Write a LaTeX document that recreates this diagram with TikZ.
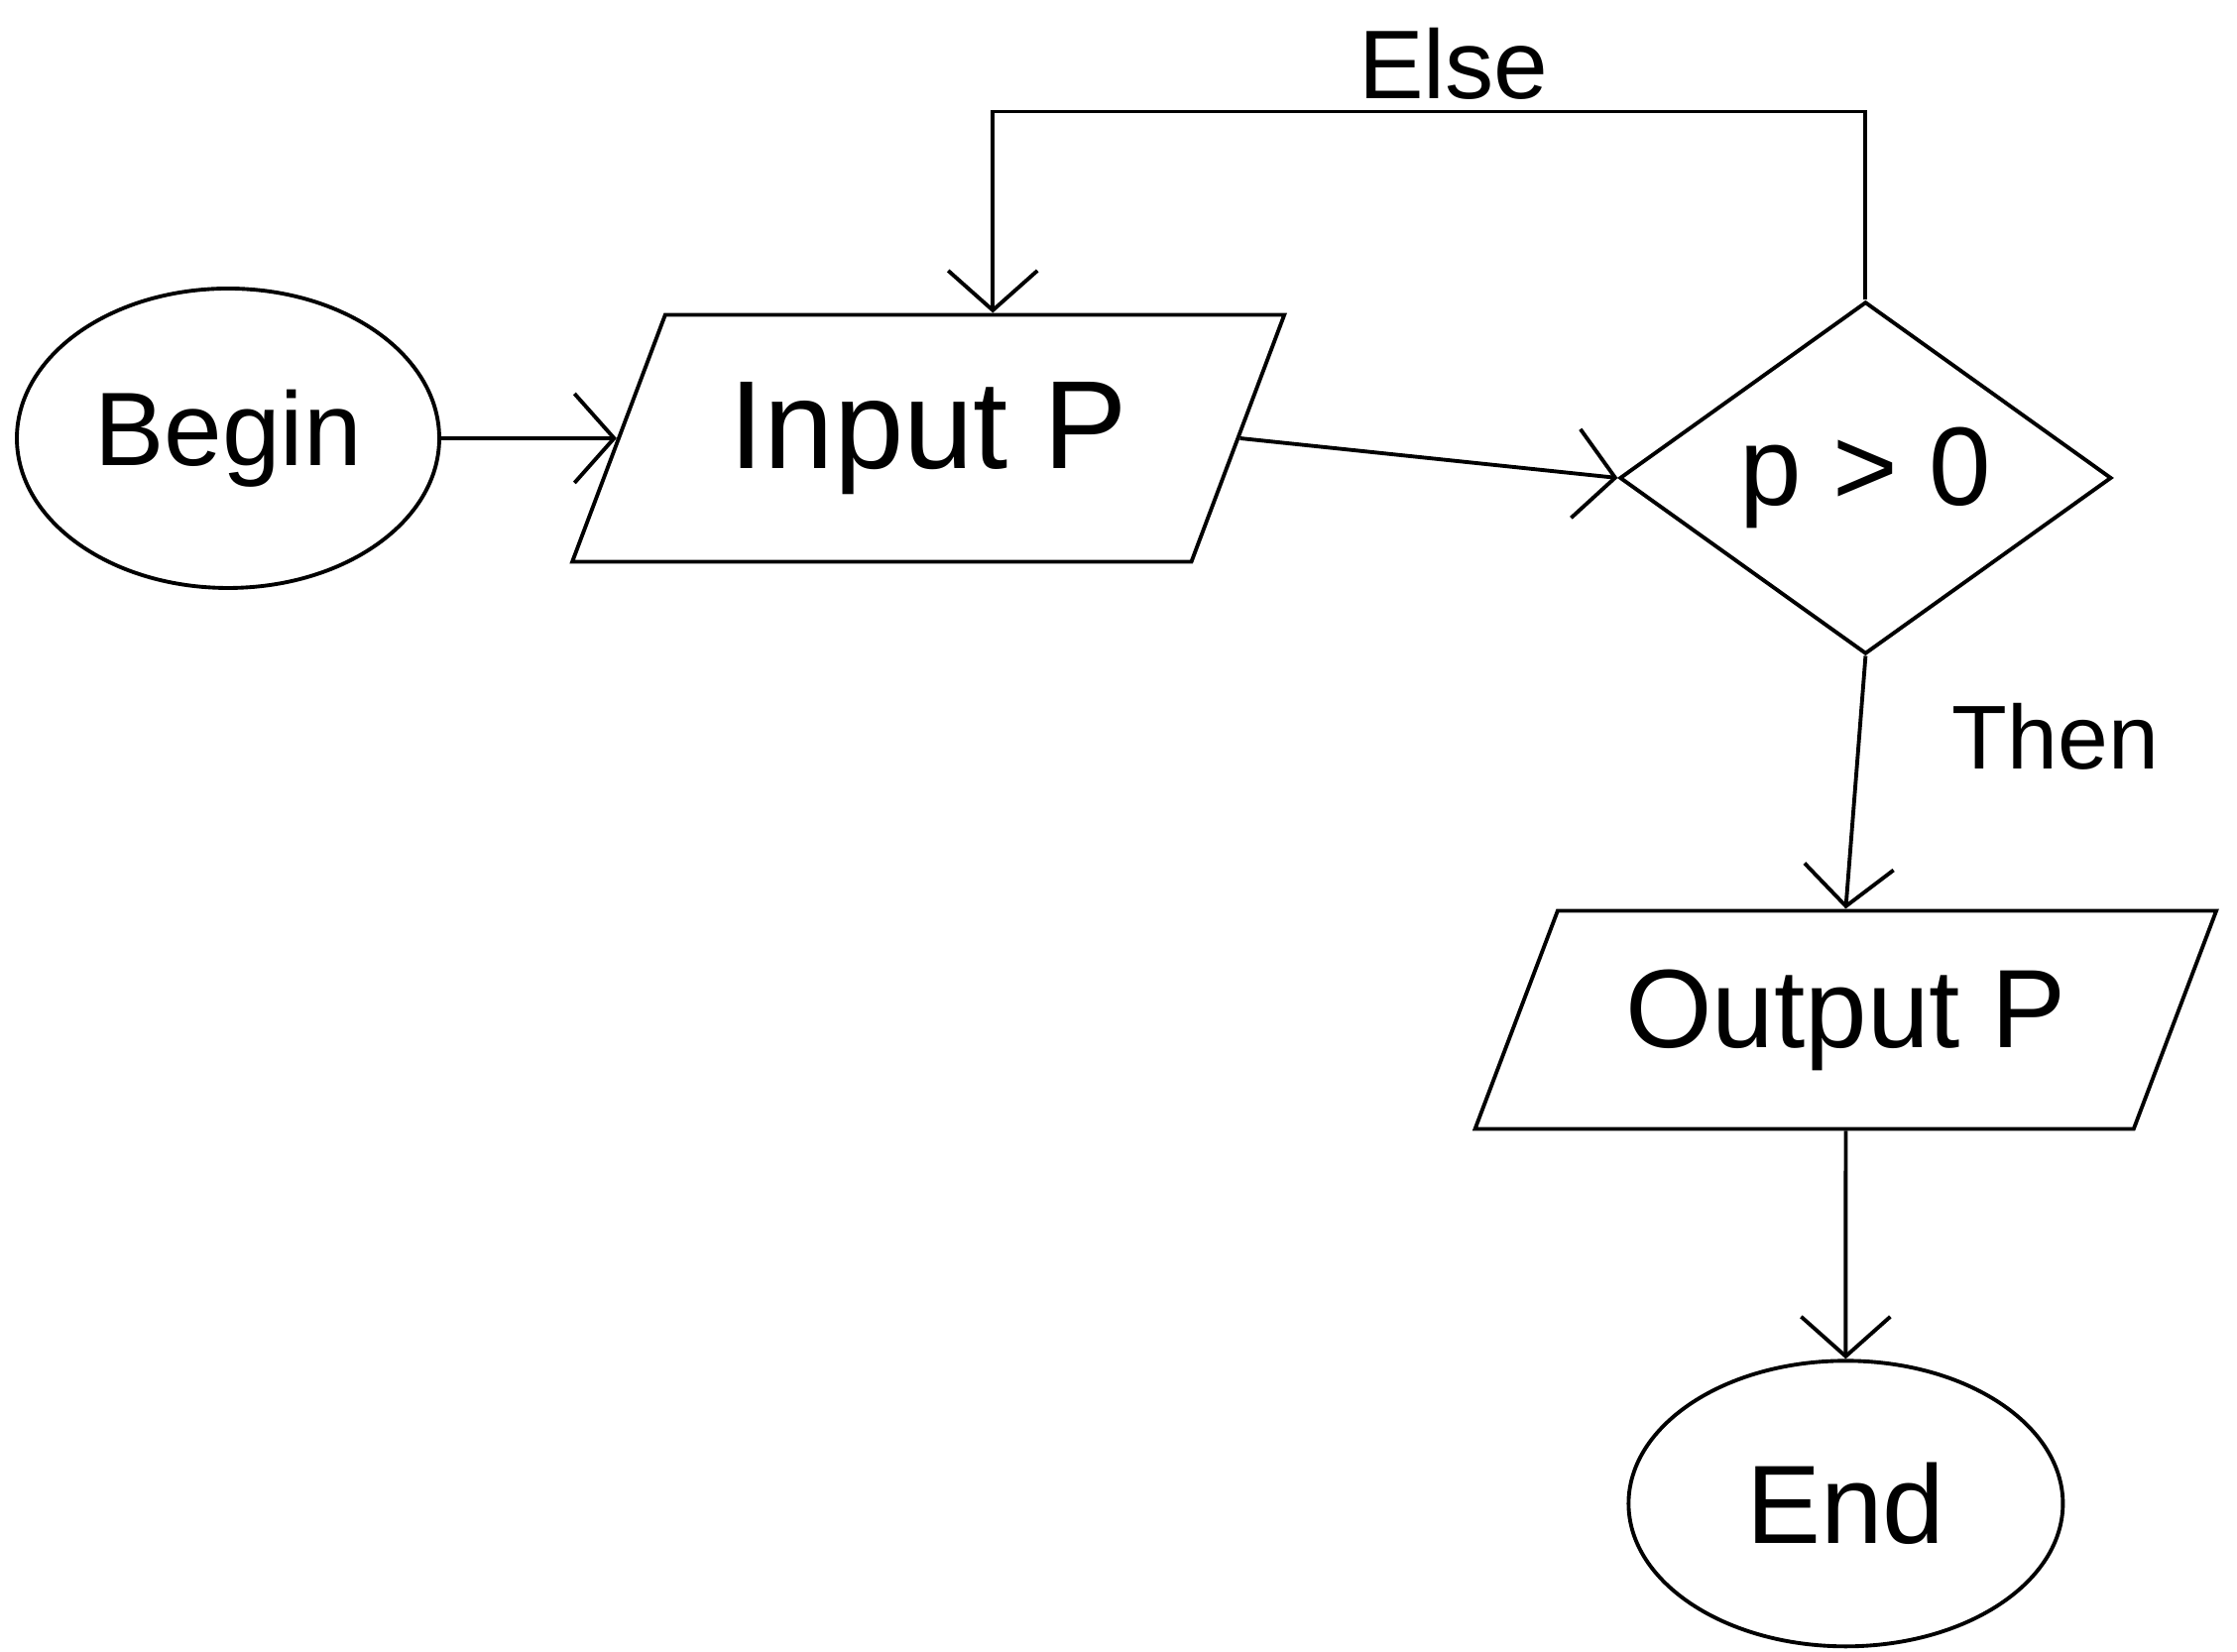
\documentclass[tikz,border=0pt]{standalone}
\usepackage{fontspec}
\setmainfont{Liberation Sans}
\usetikzlibrary{arrows.meta,positioning,shapes.geometric}

\begin{document}
\begin{tikzpicture}[node distance=2cm, line width=1.1pt, font=\fontsize{32}{38}\selectfont]
\tikzset{terminal/.style={draw, ellipse, inner sep=0pt},
  io/.style={draw, trapezium, trapezium stretches=true, trapezium left angle=58, trapezium right angle=122, inner sep=0pt},
  decision/.style={draw, diamond, inner sep=0pt},
  flow/.style={-{Straight Barb[length=4mm,width=9mm]}}}
\useasboundingbox (0,0) rectangle (22.56,16.66);
\node[terminal, minimum width=4.26cm, minimum height=3.02cm, font=\fontsize{30}{36}\selectfont] (begin) at (2.30,12.24) {Begin};
\node[io, minimum width=7.19cm, minimum height=2.49cm, right=1.77cm of begin, font=\fontsize{36}{42}\selectfont] (input) {Input P};
\node[decision, minimum width=4.96cm, minimum height=3.41cm, right=3.81cm of input, yshift=-4mm] (cond) {p > 0};
\node[io, minimum width=7.48cm, minimum height=2.2cm, below=2.55cm of cond, xshift=-2mm] (output) {Output P};
\node[terminal, minimum width=4.38cm, minimum height=2.88cm, below=2.3cm of output] (finish) {End};

\draw[flow] (begin) -- (input);
\draw[flow] (input.east) -- (cond.west);
\draw[flow] (cond.north) -- ++(0,1.9) -| ([xshift=6.5mm]input.north) node[pos=0.236, above, inner sep=3pt, font=\fontsize{28}{34}\selectfont] {Else};
\draw[flow] (cond.south) -- (output.north) node[pos=0.32, right=8mm, font=\fontsize{26}{32}\selectfont] {Then};
\draw[flow] (output) -- (finish);
\end{tikzpicture}
\end{document}
